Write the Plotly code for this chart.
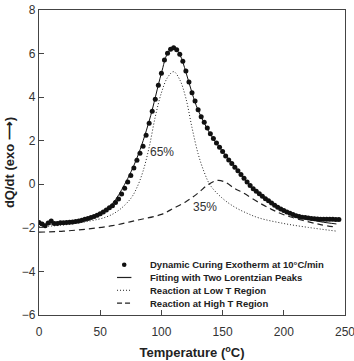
import plotly.graph_objects as go

# ---- data ----
data_x = [0, 2.5, 5, 7.5, 10, 12.5, 15, 17.5, 20, 22.5, 25, 27.5, 30, 32.5, 35, 37.5, 40, 42.5, 45, 47.5,
          50, 52.5, 55, 57.5, 60, 62.5, 65, 67.5, 70, 72.5, 75, 77.5, 80, 82.5, 85, 87.5, 90, 92.5, 95, 97.5,
          100, 102.5, 105, 107.5, 110, 112.5, 115, 117.5, 120, 122.5, 125, 127.5, 130, 132.5, 135, 137.5,
          140, 142.5, 145, 147.5, 150, 152.5, 155, 157.5, 160, 162.5, 165, 167.5, 170, 172.5, 175, 177.5,
          180, 182.5, 185, 187.5, 190, 192.5, 195, 197.5, 200, 202.5, 205, 207.5, 210, 212.5, 215, 217.5,
          220, 222.5, 225, 227.5, 230, 232.5, 235, 237.5, 240, 242.5, 245]
data_y = [-1.75, -1.82, -1.90, -1.78, -1.68, -1.80, -1.80, -1.77, -1.76, -1.75, -1.74, -1.73, -1.71, -1.68,
          -1.65, -1.61, -1.57, -1.53, -1.48, -1.42, -1.35, -1.27, -1.18, -1.08, -0.98, -0.84, -0.68, -0.45,
          -0.18, 0.10, 0.40, 0.75, 1.10, 1.42, 1.75, 2.25, 2.80, 3.35, 3.90, 4.55, 5.10, 5.70, 6.02, 6.20,
          6.27, 6.18, 5.97, 5.65, 5.20, 4.70, 4.20, 3.82, 3.42, 3.10, 2.85, 2.58, 2.32, 2.10, 1.90, 1.70,
          1.50, 1.30, 1.12, 0.95, 0.78, 0.62, 0.45, 0.28, 0.10, -0.05, -0.20, -0.32, -0.44, -0.55, -0.66,
          -0.76, -0.86, -0.96, -1.05, -1.13, -1.20, -1.27, -1.33, -1.39, -1.44, -1.48, -1.51, -1.53, -1.55,
          -1.57, -1.58, -1.59, -1.60, -1.60, -1.61, -1.61, -1.61, -1.62, -1.62]

fit_x = [0, 20, 40, 50, 60, 70, 80, 90, 100, 105, 110, 115, 120, 125, 130, 140, 150, 160, 170, 180,
         190, 200, 210, 220, 230, 243]
fit_y = [-1.85, -1.78, -1.58, -1.33, -0.88, 0.0, 1.2, 2.9, 5.1, 6.0, 6.25, 5.95, 5.15, 4.2, 3.4, 2.3,
         1.5, 0.78, 0.1, -0.45, -0.88, -1.22, -1.45, -1.6, -1.72, -1.82]

low_x = [0, 20, 40, 55, 65, 75, 80, 85, 90, 95, 100, 105, 110, 115, 120, 125, 130, 135, 140, 150, 160,
         170, 180, 200, 220, 243]
low_y = [-1.95, -1.87, -1.7, -1.5, -1.2, -0.65, -0.15, 0.6, 1.7, 3.1, 4.2, 4.9, 5.17, 4.8, 3.95, 2.6,
         1.4, 0.55, -0.05, -0.65, -1.05, -1.33, -1.55, -1.8, -1.98, -2.15]

high_x = [0, 20, 40, 60, 80, 100, 110, 120, 130, 138, 146, 152, 160, 167, 180, 190, 200, 215, 230, 243]
high_y = [-2.2, -2.15, -2.05, -1.9, -1.65, -1.38, -1.1, -0.8, -0.4, -0.02, 0.18, 0.1, -0.2, -0.4,
          -0.85, -1.15, -1.4, -1.65, -1.85, -1.97]

x_ticks = [0, 50, 100, 150, 200, 250]
y_ticks = [-6, -4, -2, 0, 2, 4, 6, 8]

labels_text = ["65%", "35%"]
labels_x = [100.5, 136]
labels_y = [1.5, -1.05]

names = ["Dynamic Curing Exotherm at 10\u00b0C/min", "Fitting with Two Lorentzian Peaks",
         "Reaction at Low T Region", "Reaction at High T Region"]

FONT = "Arial, Liberation Sans, sans-serif"
INK = "#222"

fig = go.Figure()
fig.add_trace(go.Scatter(x=low_x, y=low_y, mode="lines", name=names[2],
                         line=dict(color=INK, width=1, dash="1px,2px", shape="spline")))
fig.add_trace(go.Scatter(x=high_x, y=high_y, mode="lines", name=names[3],
                         line=dict(color=INK, width=1.2, dash="6px,4px", shape="spline")))
fig.add_trace(go.Scatter(x=fit_x, y=fit_y, mode="lines", name=names[1],
                         line=dict(color="#111", width=1, shape="spline")))
fig.add_trace(go.Scatter(x=data_x, y=data_y, mode="markers", name=names[0],
                         marker=dict(color="#111", size=5)))

for t, xx, yy in zip(labels_text, labels_x, labels_y):
    fig.add_annotation(x=xx, y=yy, text=t, showarrow=False,
                       font=dict(family=FONT, size=12, color="#333"))

# ---- legend drawn as a compact key (paper coordinates) ----
key_x0, key_x1, text_x = 0.255, 0.302, 0.355
row_y = [0.165, 0.123, 0.081, 0.039]
key_styles = [None, "solid", "dot", "dash"]
for name, ry, st in zip(names, row_y, key_styles):
    fig.add_annotation(xref="paper", yref="paper", x=text_x, y=ry, xanchor="left", yanchor="middle",
                       text="<b>" + name + "</b>", showarrow=False,
                       font=dict(family=FONT, size=9.5, color=INK))
    if st is None:
        fig.add_shape(type="circle", xref="paper", yref="paper",
                      x0=(key_x0 + key_x1) / 2 - 0.0075, x1=(key_x0 + key_x1) / 2 + 0.0075,
                      y0=ry - 0.0075, y1=ry + 0.0075, fillcolor="#111", line=dict(width=0))
    else:
        fig.add_shape(type="line", xref="paper", yref="paper", x0=key_x0, x1=key_x1, y0=ry, y1=ry,
                      line=dict(color=INK, width=1.2 if st != "dot" else 1,
                                dash={"solid": "solid", "dot": "1px,2px", "dash": "5px,3px"}[st]))

axis_common = dict(showline=True, linecolor="#444", linewidth=1.3, mirror=True, ticks="inside",
                   ticklen=5, tickcolor="#444", showgrid=False, zeroline=False,
                   ticklabeloverflow="allow", automargin=False,
                   tickfont=dict(family=FONT, size=12, color="#333"))

fig.update_xaxes(range=[0, 250], tickvals=x_ticks, ticklabelstandoff=5, **axis_common,
                 title=dict(text="<b>Temperature (<sup>o</sup>C)</b>", standoff=10,
                            font=dict(family=FONT, size=13, color=INK)))
fig.update_yaxes(range=[-6, 8], tickvals=y_ticks, **axis_common,
                 title=dict(text="<b>dQ/dt (exo \u27f6)</b>", standoff=4,
                            font=dict(family=FONT, size=13, color=INK)))

fig.update_layout(
    width=354, height=361,
    margin=dict(l=39, r=9, t=10, b=46),
    plot_bgcolor="white", paper_bgcolor="white",
    showlegend=False,
)

fig.write_html("out.html")
